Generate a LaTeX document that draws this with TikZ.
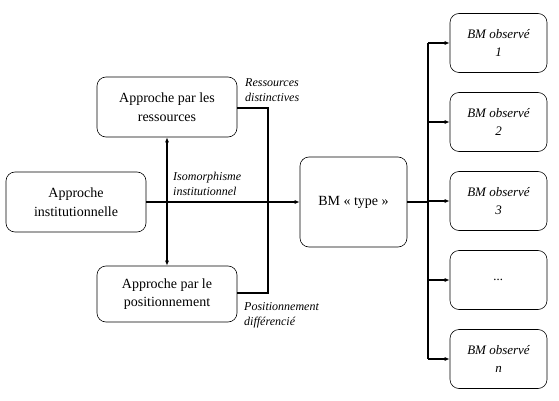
\documentclass[tikz,border=0pt]{standalone}
\usepackage{fontspec}
\setmainfont{Liberation Serif}
\usetikzlibrary{arrows.meta}
\begin{document}
\begin{tikzpicture}[x=1pt,y=-1pt,
  box/.style={draw, rounded corners=9pt, line width=0.6pt, align=center, font=\fontsize{14}{18.5}\selectfont, inner sep=0pt},
  obs/.style={box, minimum width=97pt, minimum height=59pt, font=\fontsize{13}{18}\selectfont\itshape},
  lbl/.style={font=\fontsize{12}{15}\selectfont\itshape, align=left, inner sep=0pt, anchor=west},
  conn/.style={line width=1.1pt},
  arr/.style={conn, -{Latex[length=5pt,width=4pt]}}]
\useasboundingbox (0,0) rectangle (559,401);
\node[box, minimum width=140pt, minimum height=60pt] (inst) at (76,202) {Approche\\institutionnelle};
\node[box, minimum width=140pt, minimum height=60pt] (res) at (167,107) {Approche par les\\ressources};
\node[box, minimum width=140pt, minimum height=56pt] (pos) at (167,294) {Approche par le\\positionnement};
\node[box, minimum width=107pt, minimum height=90pt] (type) at (353.5,202) {BM « type »};
\node[obs] (o1) at (498.5,43) {BM observé\\1};
\node[obs] (o2) at (498.5,122) {BM observé\\2};
\node[obs] (o3) at (498.5,201) {BM observé\\3};
\node[obs] (o4) at (498.5,280) {...};
\node[obs] (o5) at (498.5,359) {BM observé\\n};
\coordinate (bj) at (428,202);
\draw[arr, {Latex[length=5pt,width=4pt]}-{Latex[length=5pt,width=4pt]}] (res.south) -- (pos.north);
\draw[arr] (inst.east) -- (type.west);
\draw[conn] (res.east |- 0,108) -- (268,108) -- (268,293) -- (pos.east |- 0,293);
\draw[conn] (type.east) -- (bj);
\draw[conn] (428,43) -- (428,359);
\foreach \n in {o1,o2,o3,o4,o5} \draw[arr] (428,0 |- \n.west) -- (\n.west);
\node[lbl] (l1) at (245,90) {Ressources\\distinctives};
\node[lbl] (l2) at (173,184) {Isomorphisme\\institutionnel};
\node[lbl] (l3) at (244,315) {Positionnement\\différencié};
\end{tikzpicture}
\end{document}
